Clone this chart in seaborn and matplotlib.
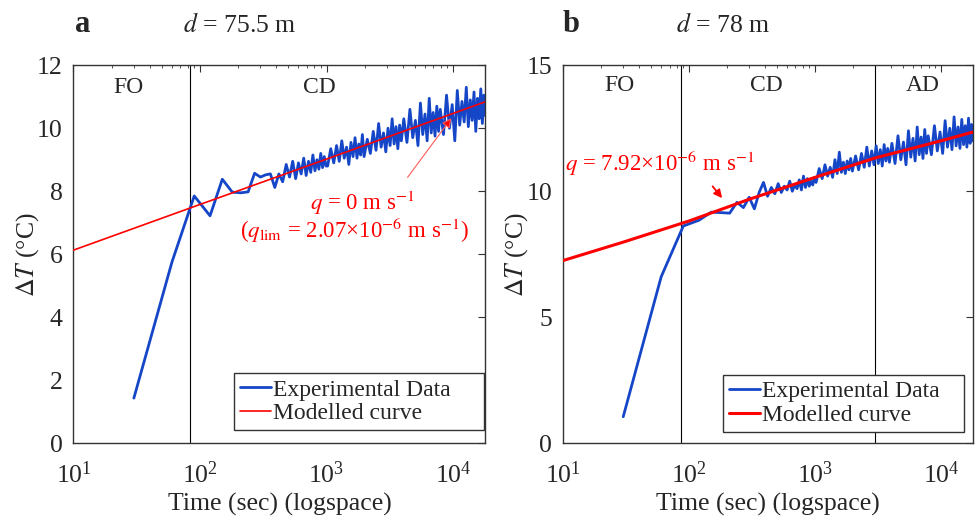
import numpy as np
import pandas as pd
import seaborn as sns
import matplotlib.pyplot as plt
import matplotlib.transforms as mtransforms
from matplotlib.ticker import LogLocator, NullFormatter, FixedLocator

# sampling times shared by both experiments (s)
time_s = [30, 60, 90, 120, 150, 180, 210, 240, 270, 300, 330, 360, 390, 420, 450,
          480, 510, 540, 570, 600, 630, 660, 690, 720, 750, 780, 810, 840, 870, 900,
          930, 960, 990,
          1020, 1080, 1140, 1200, 1260, 1320, 1380, 1440, 1500, 1560, 1620, 1680,
          1740, 1800, 1860, 1920, 1980,
          2100, 2220, 2340, 2460, 2580, 2700, 2820, 2940, 3060, 3180, 3300, 3420,
          3540, 3660, 3780, 3900,
          4080, 4320, 4560, 4800, 5040, 5280, 5520, 5760, 6000, 6240, 6480, 6720,
          6960, 7200, 7440, 7680, 7920,
          8400, 8880, 9360, 9840, 10320, 10800, 11280, 11760, 12240, 12720, 13200,
          13680, 14160, 14640, 15120, 15600, 16080, 16560, 17040, 17520, 18000]

# panel a: d = 75.5 m
exp_a = [1.43, 5.75, 7.85, 7.22, 8.38, 7.97, 7.95, 7.98, 8.57, 8.45, 8.52, 8.55, 8.12,
         8.55, 8.30, 8.85, 8.45, 8.95, 8.40, 8.90, 8.55, 9.05, 8.50, 8.95, 8.60, 9.15,
         8.65, 9.00, 8.70, 9.20, 8.75, 9.10, 8.80,
         8.80, 9.35, 8.90, 9.45, 8.95, 9.60, 9.05, 9.40, 8.85, 9.55, 9.10, 9.70, 9.05,
         9.50, 9.15, 9.80, 9.10,
         9.65, 9.20, 9.90, 9.30, 10.15, 9.40, 9.85, 9.25, 10.00, 9.45, 10.30, 9.50,
         10.05, 9.35, 10.10, 9.60,
         10.30, 9.55, 10.60, 9.70, 10.25, 9.45, 10.80, 9.80, 10.45, 9.60, 10.95, 9.85,
         10.50, 9.75, 10.70, 9.90, 10.60,
         9.80, 11.05, 10.00, 10.75, 9.60, 11.20, 10.10, 10.85, 10.20, 11.30, 10.05,
         10.90, 10.25, 11.15, 9.90, 10.95, 10.30, 11.25, 10.15, 11.05, 10.40]
model_t_a = [10, 100, 1000, 10000, 18000]
model_a = [6.13, 7.58, 9.02, 10.47, 10.84]

# panel b: d = 78 m
exp_b = [1.05, 6.60, 8.62, 8.85, 9.17, 9.15, 9.13, 9.56, 9.35, 9.76, 9.30, 9.95, 10.35,
         9.80, 10.15, 9.90, 10.30, 9.95, 10.20, 10.05, 10.40, 10.00, 10.25, 10.10, 10.45,
         10.05, 10.60, 10.15, 10.50, 10.20, 10.40, 10.25, 10.55,
         10.35, 10.90, 10.50, 11.05, 10.60, 10.95, 10.55, 11.25, 10.70, 11.55, 10.75,
         11.15, 10.70, 11.20, 10.85, 11.30, 10.80,
         11.40, 10.85, 11.50, 10.95, 11.75, 11.00, 11.60, 11.05, 11.80, 11.10, 11.65,
         11.00, 11.85, 11.20, 11.70, 11.15,
         11.90, 11.10, 12.20, 11.25, 11.95, 11.05, 12.40, 11.35, 12.10, 11.20, 12.55,
         11.45, 12.15, 11.30, 12.45, 11.50, 12.20,
         11.45, 12.60, 11.60, 12.35, 11.50, 12.80, 11.75, 12.50, 11.65, 12.95, 11.80,
         12.55, 11.70, 12.85, 11.85, 12.60, 11.75, 12.90, 11.90, 12.65, 12.00]
model_t_b = [10, 30, 100, 300, 1000, 3000, 10000, 18000]
model_b = [7.25, 7.98, 8.82, 9.68, 10.55, 11.32, 12.00, 12.35]

bounds_a = [83]
bounds_b = [86, 3000]

sns.set_style("white")
plt.rcParams['font.family'] = ['Liberation Serif', 'DejaVu Serif']
plt.rcParams['mathtext.fontset'] = 'stix'

blue = '#1646c8'
red = '#ff0000'

fig = plt.figure(figsize=(9.76, 5.22), dpi=100)
ax_a = fig.add_axes([0.0753, 0.151, 0.422, 0.724])
ax_b = fig.add_axes([0.577, 0.151, 0.420, 0.724])


def style_axis(ax, yticks, ymax):
    ax.set_xscale('log')
    ax.set_xlim(10, 18000)
    ax.set_ylim(0, ymax)
    ax.set_yticks(yticks)
    ax.xaxis.set_major_locator(FixedLocator([10, 100, 1000, 10000]))
    ax.xaxis.set_minor_locator(LogLocator(base=10, subs=np.arange(2, 10)))
    ax.xaxis.set_minor_formatter(NullFormatter())
    ax.tick_params(which='both', direction='in', top=True, right=True,
                   labelsize=18.5, color='#333333')
    ax.tick_params(axis='x', which='major', pad=13)
    ax.tick_params(axis='y', which='major', pad=8)
    ax.tick_params(which='major', length=5, width=0.8)
    ax.tick_params(which='minor', length=2.5, width=0.6)
    for s in ax.spines.values():
        s.set_color('#333333')
        s.set_linewidth(1.0)
    ax.set_xlabel('Time (sec) (logspace)', fontsize=18.5, labelpad=4)
    ax.set_ylabel(r'$\Delta\mathit{T}$ (°C)', fontsize=18.5, labelpad=-3)


for ax, exp, mt, mv, bounds, yt, ymax, lw_m in [
        (ax_a, exp_a, model_t_a, model_a, bounds_a, [0, 2, 4, 6, 8, 10, 12], 12, 1.2),
        (ax_b, exp_b, model_t_b, model_b, bounds_b, [0, 5, 10, 15], 15, 2.2)]:
    for b in bounds:
        ax.axvline(b, color='black', lw=0.8, zorder=1)
    df_exp = pd.DataFrame({'t': time_s, 'dT': exp})
    df_mod = pd.DataFrame({'t': mt, 'dT': mv})
    sns.lineplot(data=df_exp, x='t', y='dT', ax=ax, color=blue, lw=2.0,
                 label='Experimental Data', zorder=2)
    sns.lineplot(data=df_mod, x='t', y='dT', ax=ax, color=red, lw=lw_m,
                 label='Modelled curve', zorder=3)
    style_axis(ax, yt, ymax)

leg_kw = dict(loc='lower left', mode='expand', fontsize=17, frameon=True,
              fancybox=False, edgecolor='#333333', framealpha=1, borderpad=0.25,
              labelspacing=0.1, handlelength=1.3, handletextpad=0.1, borderaxespad=0)
leg = ax_a.legend(bbox_to_anchor=(0.39, 0.034, 0.607, 0.15), **leg_kw)
leg.get_frame().set_linewidth(1.0)
leg.set_zorder(10)
leg = ax_b.legend(bbox_to_anchor=(0.39, 0.030, 0.588, 0.15), **leg_kw)
leg.get_frame().set_linewidth(1.0)
leg.set_zorder(10)

# phase labels
ta = mtransforms.blended_transform_factory(ax_a.transData, ax_a.transAxes)
tb = mtransforms.blended_transform_factory(ax_b.transData, ax_b.transAxes)
ax_a.text(27, 0.94, 'FO', transform=ta, ha='center', va='center', fontsize=17)
ax_a.text(870, 0.94, 'CD', transform=ta, ha='center', va='center', fontsize=17)
ax_b.text(28, 0.947, 'FO', transform=tb, ha='center', va='center', fontsize=17)
ax_b.text(412, 0.947, 'CD', transform=tb, ha='center', va='center', fontsize=17)
ax_b.text(7150, 0.947, 'AD', transform=tb, ha='center', va='center', fontsize=17)

# annotations
ax_a.annotate('', xy=(9700, 10.32), xytext=(4370, 8.44), zorder=6,
              arrowprops=dict(arrowstyle='-|>', color='#ff5a5a', lw=0.8,
                              mutation_scale=14, fc=red, ec='#ff5a5a',
                              shrinkA=0, shrinkB=0))
ax_a.text(1930, 7.62, r'$q$ = 0 m s$^{-1}$', color=red, ha='center', va='center',
          fontsize=16.5)
ax_a.text(1660, 6.76, r'($q_{\rm lim}$ = 2.07×10$^{-6}$ m s$^{-1}$)', color=red,
          ha='center', va='center', fontsize=16.5)
ax_b.annotate('', xy=(189, 9.64), xytext=(149, 10.28), zorder=6,
              arrowprops=dict(arrowstyle='-|>', color=red, lw=1.3, mutation_scale=12))
ax_b.text(59, 11.1, r'$q$ = 7.92×10$^{-6}$ m s$^{-1}$', color=red, ha='center',
          va='center', fontsize=16.5)

# panel titles
fig.text(83 / 976, 1 - 25 / 522, 'a', fontsize=22, fontweight='bold', ha='center', va='center')
fig.text(240 / 976, 1 - 25 / 522, r'$d$ = 75.5 m', fontsize=18.5, ha='center', va='center')
fig.text(571 / 976, 1 - 25 / 522, 'b', fontsize=22, fontweight='bold', ha='center', va='center')
fig.text(723 / 976, 1 - 25 / 522, r'$d$ = 78 m', fontsize=18.5, ha='center', va='center')

fig.savefig('out.png', dpi=100)
